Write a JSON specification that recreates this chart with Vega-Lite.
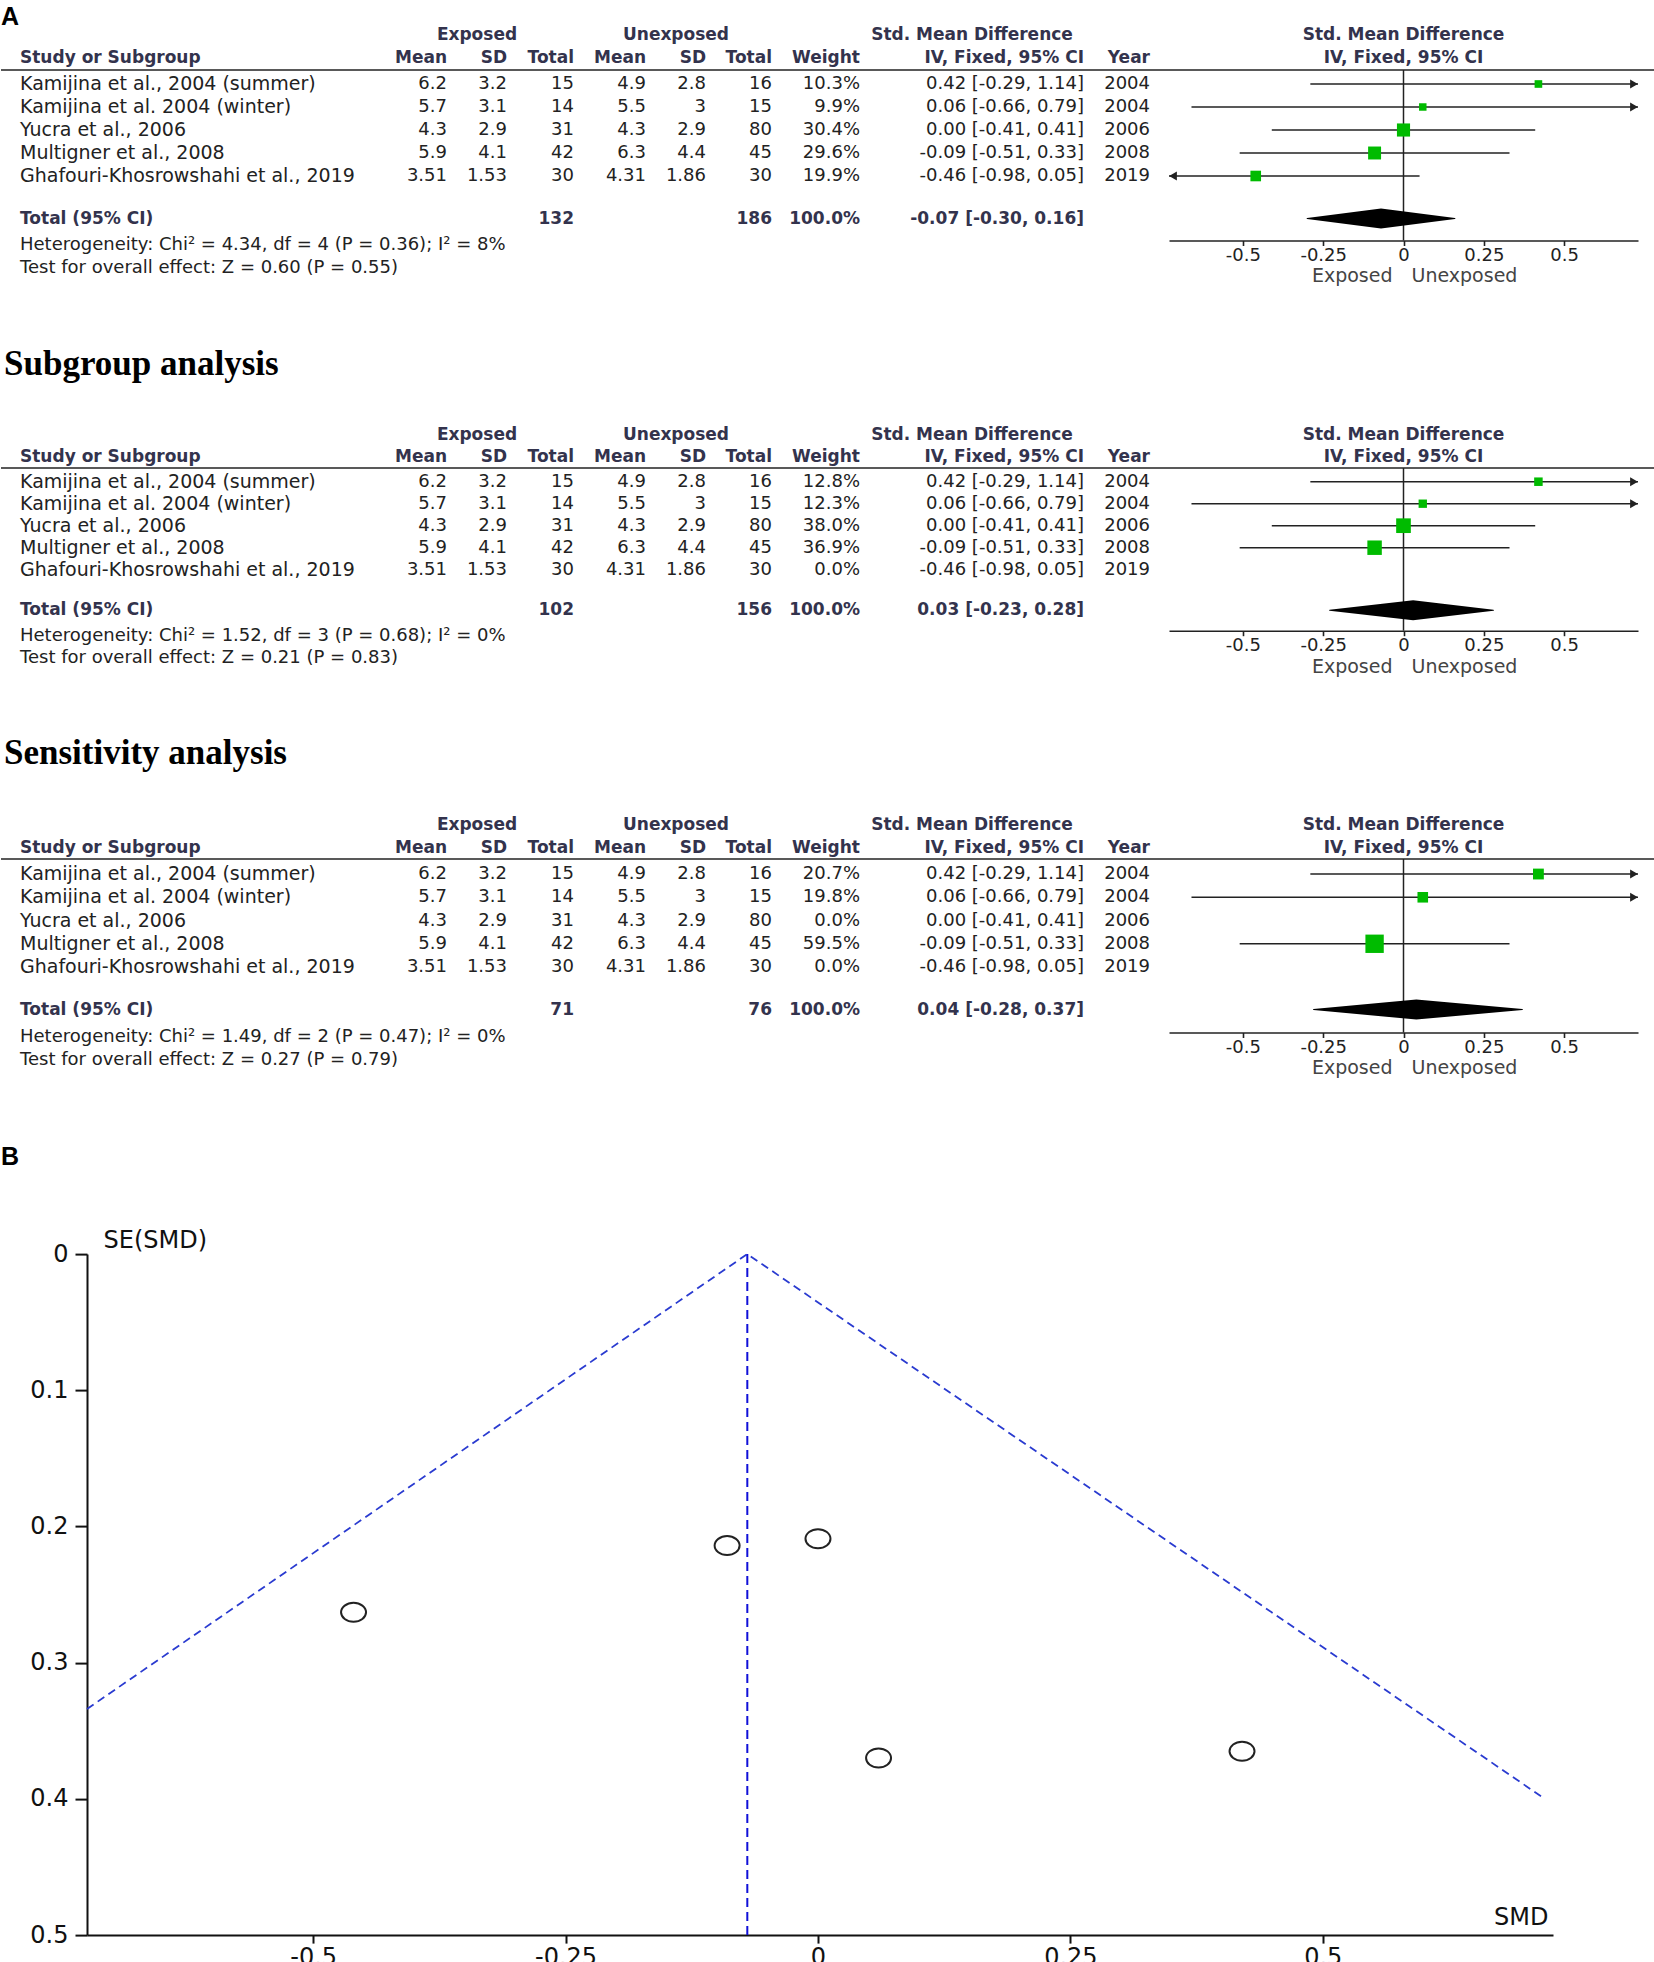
{
  "$schema": "https://vega.github.io/schema/vega-lite/v6.json",
  "background": "white",
  "padding": {"left": 0, "top": 4.5, "right": 0, "bottom": 0},
  "spacing": 147.2,
  "bounds": "flush",
  "config": {"view": {"stroke": null}},
  "datasets": {
    "forest": [
      {"panel": 1, "kind": "study", "row": "s1", "study": "Kamijina et al., 2004 (summer)", "mean_e": 6.2, "sd_e": 3.2, "n_e": 15, "mean_c": 4.9, "sd_c": 2.8, "n_c": 16, "w": 0.103, "ci": "0.42 [-0.29, 1.14]", "est": 0.42, "lo": -0.29, "hi": 1.14, "year": 2004},
      {"panel": 1, "kind": "study", "row": "s2", "study": "Kamijina et al. 2004 (winter)", "mean_e": 5.7, "sd_e": 3.1, "n_e": 14, "mean_c": 5.5, "sd_c": 3, "n_c": 15, "w": 0.099, "ci": "0.06 [-0.66, 0.79]", "est": 0.06, "lo": -0.66, "hi": 0.79, "year": 2004},
      {"panel": 1, "kind": "study", "row": "s3", "study": "Yucra et al., 2006", "mean_e": 4.3, "sd_e": 2.9, "n_e": 31, "mean_c": 4.3, "sd_c": 2.9, "n_c": 80, "w": 0.304, "ci": "0.00 [-0.41, 0.41]", "est": 0.0, "lo": -0.41, "hi": 0.41, "year": 2006},
      {"panel": 1, "kind": "study", "row": "s4", "study": "Multigner et al., 2008", "mean_e": 5.9, "sd_e": 4.1, "n_e": 42, "mean_c": 6.3, "sd_c": 4.4, "n_c": 45, "w": 0.296, "ci": "-0.09 [-0.51, 0.33]", "est": -0.09, "lo": -0.51, "hi": 0.33, "year": 2008},
      {"panel": 1, "kind": "study", "row": "s5", "study": "Ghafouri-Khosrowshahi et al., 2019", "mean_e": 3.51, "sd_e": 1.53, "n_e": 30, "mean_c": 4.31, "sd_c": 1.86, "n_c": 30, "w": 0.199, "ci": "-0.46 [-0.98, 0.05]", "est": -0.46, "lo": -0.98, "hi": 0.05, "year": 2019},
      {"panel": 1, "kind": "total", "row": "total", "n_e": 132, "n_c": 186, "w": 1.0, "ci": "-0.07 [-0.30, 0.16]", "est": -0.07, "lo": -0.30, "hi": 0.16, "het": "Heterogeneity: Chi² = 4.34, df = 4 (P = 0.36); I² = 8%", "test": "Test for overall effect: Z = 0.60 (P = 0.55)", "title": "A"},
      {"panel": 2, "kind": "study", "row": "s1", "study": "Kamijina et al., 2004 (summer)", "mean_e": 6.2, "sd_e": 3.2, "n_e": 15, "mean_c": 4.9, "sd_c": 2.8, "n_c": 16, "w": 0.128, "ci": "0.42 [-0.29, 1.14]", "est": 0.42, "lo": -0.29, "hi": 1.14, "year": 2004},
      {"panel": 2, "kind": "study", "row": "s2", "study": "Kamijina et al. 2004 (winter)", "mean_e": 5.7, "sd_e": 3.1, "n_e": 14, "mean_c": 5.5, "sd_c": 3, "n_c": 15, "w": 0.123, "ci": "0.06 [-0.66, 0.79]", "est": 0.06, "lo": -0.66, "hi": 0.79, "year": 2004},
      {"panel": 2, "kind": "study", "row": "s3", "study": "Yucra et al., 2006", "mean_e": 4.3, "sd_e": 2.9, "n_e": 31, "mean_c": 4.3, "sd_c": 2.9, "n_c": 80, "w": 0.380, "ci": "0.00 [-0.41, 0.41]", "est": 0.0, "lo": -0.41, "hi": 0.41, "year": 2006},
      {"panel": 2, "kind": "study", "row": "s4", "study": "Multigner et al., 2008", "mean_e": 5.9, "sd_e": 4.1, "n_e": 42, "mean_c": 6.3, "sd_c": 4.4, "n_c": 45, "w": 0.369, "ci": "-0.09 [-0.51, 0.33]", "est": -0.09, "lo": -0.51, "hi": 0.33, "year": 2008},
      {"panel": 2, "kind": "study", "row": "s5", "study": "Ghafouri-Khosrowshahi et al., 2019", "mean_e": 3.51, "sd_e": 1.53, "n_e": 30, "mean_c": 4.31, "sd_c": 1.86, "n_c": 30, "w": 0.0, "ci": "-0.46 [-0.98, 0.05]", "est": -0.46, "lo": -0.98, "hi": 0.05, "year": 2019},
      {"panel": 2, "kind": "total", "row": "total", "n_e": 102, "n_c": 156, "w": 1.0, "ci": "0.03 [-0.23, 0.28]", "est": 0.03, "lo": -0.23, "hi": 0.28, "het": "Heterogeneity: Chi² = 1.52, df = 3 (P = 0.68); I² = 0%", "test": "Test for overall effect: Z = 0.21 (P = 0.83)", "title": "Subgroup analysis"},
      {"panel": 3, "kind": "study", "row": "s1", "study": "Kamijina et al., 2004 (summer)", "mean_e": 6.2, "sd_e": 3.2, "n_e": 15, "mean_c": 4.9, "sd_c": 2.8, "n_c": 16, "w": 0.207, "ci": "0.42 [-0.29, 1.14]", "est": 0.42, "lo": -0.29, "hi": 1.14, "year": 2004},
      {"panel": 3, "kind": "study", "row": "s2", "study": "Kamijina et al. 2004 (winter)", "mean_e": 5.7, "sd_e": 3.1, "n_e": 14, "mean_c": 5.5, "sd_c": 3, "n_c": 15, "w": 0.198, "ci": "0.06 [-0.66, 0.79]", "est": 0.06, "lo": -0.66, "hi": 0.79, "year": 2004},
      {"panel": 3, "kind": "study", "row": "s3", "study": "Yucra et al., 2006", "mean_e": 4.3, "sd_e": 2.9, "n_e": 31, "mean_c": 4.3, "sd_c": 2.9, "n_c": 80, "w": 0.0, "ci": "0.00 [-0.41, 0.41]", "est": 0.0, "lo": -0.41, "hi": 0.41, "year": 2006},
      {"panel": 3, "kind": "study", "row": "s4", "study": "Multigner et al., 2008", "mean_e": 5.9, "sd_e": 4.1, "n_e": 42, "mean_c": 6.3, "sd_c": 4.4, "n_c": 45, "w": 0.595, "ci": "-0.09 [-0.51, 0.33]", "est": -0.09, "lo": -0.51, "hi": 0.33, "year": 2008},
      {"panel": 3, "kind": "study", "row": "s5", "study": "Ghafouri-Khosrowshahi et al., 2019", "mean_e": 3.51, "sd_e": 1.53, "n_e": 30, "mean_c": 4.31, "sd_c": 1.86, "n_c": 30, "w": 0.0, "ci": "-0.46 [-0.98, 0.05]", "est": -0.46, "lo": -0.98, "hi": 0.05, "year": 2019},
      {"panel": 3, "kind": "total", "row": "total", "n_e": 71, "n_c": 76, "w": 1.0, "ci": "0.04 [-0.28, 0.37]", "est": 0.04, "lo": -0.28, "hi": 0.37, "het": "Heterogeneity: Chi² = 1.49, df = 2 (P = 0.47); I² = 0%", "test": "Test for overall effect: Z = 0.27 (P = 0.79)", "title": "Sensitivity analysis"}
    ],
    "funnel_points": [
      {"study": "Kamijina et al., 2004 (summer)", "smd": 0.42, "se": 0.365},
      {"study": "Kamijina et al. 2004 (winter)", "smd": 0.06, "se": 0.370},
      {"study": "Yucra et al., 2006", "smd": 0.0, "se": 0.209},
      {"study": "Multigner et al., 2008", "smd": -0.09, "se": 0.214},
      {"study": "Ghafouri-Khosrowshahi et al., 2019", "smd": -0.46, "se": 0.263}
    ],
    "funnel_lines": [
      {"smd": -0.724, "se": 0.334},
      {"smd": -0.07, "se": 0.0},
      {"smd": 0.72, "se": 0.4}
    ],
    "pooled": [{"smd": -0.07}]
  },
  "vconcat": [
    {
      "data": {"name": "forest"},
      "transform": [{"filter": "datum.panel == 1"}],
      "width": 1654,
      "height": {"step": 23},
      "resolve": {"scale": {"x": "independent", "size": "independent"}, "axis": {"x": "independent"}},
      "layer": [
        {"layer": [
          {"transform": [{"filter": "datum.kind=='total'"}], "mark": {"type": "text", "font": "Liberation Sans", "fontSize": 25, "fontWeight": "bold", "color": "#000000", "align": "left", "baseline": "middle", "dx": -19, "dy": -21},
           "encoding": {"x": {"datum": 0, "type": "quantitative", "scale": {"domain": [0,1,2,3,4,5,6,7,8,9], "range": [19,446,506,573,645,705,771,859,1083,1149], "zero": false, "nice": false}, "axis": null},
                        "y": {"datum": "grp", "type": "nominal", "scale": {"type": "point", "domain": ["grp","hdr","s1","s2","s3","s4","s5","gap","total","het","test"]}, "axis": null}, "text": {"field": "title"}}},
          {"transform": [{"filter": "datum.kind=='total'"}], "mark": {"type": "text", "font": "DejaVu Sans", "fontSize": 17, "fontWeight": "bold", "color": "#33334d", "baseline": "middle", "align": "center", "dy": -3},
           "encoding": {"x": {"datum": 1.5, "type": "quantitative", "axis": null}, "y": {"datum": "grp", "type": "nominal", "axis": null}, "text": {"value": "Exposed"}}},
          {"transform": [{"filter": "datum.kind=='total'"}], "mark": {"type": "text", "font": "DejaVu Sans", "fontSize": 17, "fontWeight": "bold", "color": "#33334d", "baseline": "middle", "align": "center", "dy": -3},
           "encoding": {"x": {"datum": 4.5, "type": "quantitative", "axis": null}, "y": {"datum": "grp", "type": "nominal", "axis": null}, "text": {"value": "Unexposed"}}},
          {"transform": [{"filter": "datum.kind=='total'"}], "mark": {"type": "text", "font": "DejaVu Sans", "fontSize": 17, "fontWeight": "bold", "color": "#33334d", "baseline": "middle", "align": "center", "dy": -3},
           "encoding": {"x": {"datum": 7.5, "type": "quantitative", "axis": null}, "y": {"datum": "grp", "type": "nominal", "axis": null}, "text": {"value": "Std. Mean Difference"}}},
          {"transform": [{"filter": "datum.kind=='total'"}], "mark": {"type": "text", "font": "DejaVu Sans", "fontSize": 17, "fontWeight": "bold", "color": "#33334d", "baseline": "middle", "align": "left", "dy": -3},
           "encoding": {"x": {"datum": 0, "type": "quantitative", "axis": null}, "y": {"datum": "hdr", "type": "nominal", "axis": null}, "text": {"value": "Study or Subgroup"}}},
          {"transform": [{"filter": "datum.kind=='total'"}], "mark": {"type": "text", "font": "DejaVu Sans", "fontSize": 17, "fontWeight": "bold", "color": "#33334d", "baseline": "middle", "align": "right", "dy": -3},
           "encoding": {"x": {"datum": 1, "type": "quantitative", "axis": null}, "y": {"datum": "hdr", "type": "nominal", "axis": null}, "text": {"value": "Mean"}}},
          {"transform": [{"filter": "datum.kind=='total'"}], "mark": {"type": "text", "font": "DejaVu Sans", "fontSize": 17, "fontWeight": "bold", "color": "#33334d", "baseline": "middle", "align": "right", "dy": -3},
           "encoding": {"x": {"datum": 2, "type": "quantitative", "axis": null}, "y": {"datum": "hdr", "type": "nominal", "axis": null}, "text": {"value": "SD"}}},
          {"transform": [{"filter": "datum.kind=='total'"}], "mark": {"type": "text", "font": "DejaVu Sans", "fontSize": 17, "fontWeight": "bold", "color": "#33334d", "baseline": "middle", "align": "right", "dy": -3},
           "encoding": {"x": {"datum": 3, "type": "quantitative", "axis": null}, "y": {"datum": "hdr", "type": "nominal", "axis": null}, "text": {"value": "Total"}}},
          {"transform": [{"filter": "datum.kind=='total'"}], "mark": {"type": "text", "font": "DejaVu Sans", "fontSize": 17, "fontWeight": "bold", "color": "#33334d", "baseline": "middle", "align": "right", "dy": -3},
           "encoding": {"x": {"datum": 4, "type": "quantitative", "axis": null}, "y": {"datum": "hdr", "type": "nominal", "axis": null}, "text": {"value": "Mean"}}},
          {"transform": [{"filter": "datum.kind=='total'"}], "mark": {"type": "text", "font": "DejaVu Sans", "fontSize": 17, "fontWeight": "bold", "color": "#33334d", "baseline": "middle", "align": "right", "dy": -3},
           "encoding": {"x": {"datum": 5, "type": "quantitative", "axis": null}, "y": {"datum": "hdr", "type": "nominal", "axis": null}, "text": {"value": "SD"}}},
          {"transform": [{"filter": "datum.kind=='total'"}], "mark": {"type": "text", "font": "DejaVu Sans", "fontSize": 17, "fontWeight": "bold", "color": "#33334d", "baseline": "middle", "align": "right", "dy": -3},
           "encoding": {"x": {"datum": 6, "type": "quantitative", "axis": null}, "y": {"datum": "hdr", "type": "nominal", "axis": null}, "text": {"value": "Total"}}},
          {"transform": [{"filter": "datum.kind=='total'"}], "mark": {"type": "text", "font": "DejaVu Sans", "fontSize": 17, "fontWeight": "bold", "color": "#33334d", "baseline": "middle", "align": "right", "dy": -3},
           "encoding": {"x": {"datum": 7, "type": "quantitative", "axis": null}, "y": {"datum": "hdr", "type": "nominal", "axis": null}, "text": {"value": "Weight"}}},
          {"transform": [{"filter": "datum.kind=='total'"}], "mark": {"type": "text", "font": "DejaVu Sans", "fontSize": 17, "fontWeight": "bold", "color": "#33334d", "baseline": "middle", "align": "right", "dy": -3},
           "encoding": {"x": {"datum": 8, "type": "quantitative", "axis": null}, "y": {"datum": "hdr", "type": "nominal", "axis": null}, "text": {"value": "IV, Fixed, 95% CI"}}},
          {"transform": [{"filter": "datum.kind=='total'"}], "mark": {"type": "text", "font": "DejaVu Sans", "fontSize": 17, "fontWeight": "bold", "color": "#33334d", "baseline": "middle", "align": "right", "dy": -3},
           "encoding": {"x": {"datum": 9, "type": "quantitative", "axis": null}, "y": {"datum": "hdr", "type": "nominal", "axis": null}, "text": {"value": "Year"}}},
          {"transform": [{"filter": "datum.kind=='total'"}], "mark": {"type": "rule", "color": "#222222", "strokeWidth": 1.6, "yOffset": 9},
           "encoding": {"y": {"datum": "hdr", "type": "nominal", "axis": null}}},
          {"transform": [{"filter": "datum.kind=='study'"}], "mark": {"type": "text", "font": "DejaVu Sans", "fontSize": 19, "color": "#222222", "baseline": "middle", "align": "left"},
           "encoding": {"x": {"datum": 0, "type": "quantitative", "axis": null}, "y": {"field": "row", "type": "nominal", "axis": null}, "text": {"field": "study", "type": "nominal"}}},
          {"transform": [{"filter": "datum.kind=='study'"}], "mark": {"type": "text", "font": "DejaVu Sans", "fontSize": 18, "color": "#222222", "baseline": "middle", "align": "right"},
           "encoding": {"x": {"datum": 1, "type": "quantitative", "axis": null}, "y": {"field": "row", "type": "nominal", "axis": null}, "text": {"field": "mean_e", "type": "nominal"}}},
          {"transform": [{"filter": "datum.kind=='study'"}], "mark": {"type": "text", "font": "DejaVu Sans", "fontSize": 18, "color": "#222222", "baseline": "middle", "align": "right"},
           "encoding": {"x": {"datum": 2, "type": "quantitative", "axis": null}, "y": {"field": "row", "type": "nominal", "axis": null}, "text": {"field": "sd_e", "type": "nominal"}}},
          {"transform": [{"filter": "datum.kind=='study'"}], "mark": {"type": "text", "font": "DejaVu Sans", "fontSize": 18, "color": "#222222", "baseline": "middle", "align": "right"},
           "encoding": {"x": {"datum": 3, "type": "quantitative", "axis": null}, "y": {"field": "row", "type": "nominal", "axis": null}, "text": {"field": "n_e", "type": "nominal"}}},
          {"transform": [{"filter": "datum.kind=='study'"}], "mark": {"type": "text", "font": "DejaVu Sans", "fontSize": 18, "color": "#222222", "baseline": "middle", "align": "right"},
           "encoding": {"x": {"datum": 4, "type": "quantitative", "axis": null}, "y": {"field": "row", "type": "nominal", "axis": null}, "text": {"field": "mean_c", "type": "nominal"}}},
          {"transform": [{"filter": "datum.kind=='study'"}], "mark": {"type": "text", "font": "DejaVu Sans", "fontSize": 18, "color": "#222222", "baseline": "middle", "align": "right"},
           "encoding": {"x": {"datum": 5, "type": "quantitative", "axis": null}, "y": {"field": "row", "type": "nominal", "axis": null}, "text": {"field": "sd_c", "type": "nominal"}}},
          {"transform": [{"filter": "datum.kind=='study'"}], "mark": {"type": "text", "font": "DejaVu Sans", "fontSize": 18, "color": "#222222", "baseline": "middle", "align": "right"},
           "encoding": {"x": {"datum": 6, "type": "quantitative", "axis": null}, "y": {"field": "row", "type": "nominal", "axis": null}, "text": {"field": "n_c", "type": "nominal"}}},
          {"transform": [{"filter": "datum.kind=='study'"}], "mark": {"type": "text", "font": "DejaVu Sans", "fontSize": 18, "color": "#222222", "baseline": "middle", "align": "right"},
           "encoding": {"x": {"datum": 7, "type": "quantitative", "axis": null}, "y": {"field": "row", "type": "nominal", "axis": null}, "text": {"field": "w", "type": "quantitative", "format": ".1%"}}},
          {"transform": [{"filter": "datum.kind=='study'"}], "mark": {"type": "text", "font": "DejaVu Sans", "fontSize": 18, "color": "#222222", "baseline": "middle", "align": "right"},
           "encoding": {"x": {"datum": 8, "type": "quantitative", "axis": null}, "y": {"field": "row", "type": "nominal", "axis": null}, "text": {"field": "ci", "type": "nominal"}}},
          {"transform": [{"filter": "datum.kind=='study'"}], "mark": {"type": "text", "font": "DejaVu Sans", "fontSize": 18, "color": "#222222", "baseline": "middle", "align": "right"},
           "encoding": {"x": {"datum": 9, "type": "quantitative", "axis": null}, "y": {"field": "row", "type": "nominal", "axis": null}, "text": {"field": "year", "type": "nominal"}}},
          {"transform": [{"filter": "datum.kind=='total'"}], "mark": {"type": "text", "font": "DejaVu Sans", "fontSize": 17, "fontWeight": "bold", "color": "#33334d", "baseline": "middle", "align": "left", "dy": -3.5},
           "encoding": {"x": {"datum": 0, "type": "quantitative", "axis": null}, "y": {"datum": "total", "type": "nominal", "axis": null}, "text": {"value": "Total (95% CI)"}}},
          {"transform": [{"filter": "datum.kind=='total'"}], "mark": {"type": "text", "font": "DejaVu Sans", "fontSize": 17, "fontWeight": "bold", "color": "#33334d", "baseline": "middle", "align": "right", "dy": -3.5},
           "encoding": {"x": {"datum": 3, "type": "quantitative", "axis": null}, "y": {"datum": "total", "type": "nominal", "axis": null}, "text": {"field": "n_e", "type": "nominal"}}},
          {"transform": [{"filter": "datum.kind=='total'"}], "mark": {"type": "text", "font": "DejaVu Sans", "fontSize": 17, "fontWeight": "bold", "color": "#33334d", "baseline": "middle", "align": "right", "dy": -3.5},
           "encoding": {"x": {"datum": 6, "type": "quantitative", "axis": null}, "y": {"datum": "total", "type": "nominal", "axis": null}, "text": {"field": "n_c", "type": "nominal"}}},
          {"transform": [{"filter": "datum.kind=='total'"}], "mark": {"type": "text", "font": "DejaVu Sans", "fontSize": 17, "fontWeight": "bold", "color": "#33334d", "baseline": "middle", "align": "right", "dy": -3.5},
           "encoding": {"x": {"datum": 7, "type": "quantitative", "axis": null}, "y": {"datum": "total", "type": "nominal", "axis": null}, "text": {"field": "w", "type": "quantitative", "format": ".1%"}}},
          {"transform": [{"filter": "datum.kind=='total'"}], "mark": {"type": "text", "font": "DejaVu Sans", "fontSize": 17, "fontWeight": "bold", "color": "#33334d", "baseline": "middle", "align": "right", "dy": -3.5},
           "encoding": {"x": {"datum": 8, "type": "quantitative", "axis": null}, "y": {"datum": "total", "type": "nominal", "axis": null}, "text": {"field": "ci", "type": "nominal"}}},
          {"transform": [{"filter": "datum.kind=='total'"}], "mark": {"type": "text", "font": "DejaVu Sans", "fontSize": 18, "color": "#222222", "baseline": "middle", "align": "left"},
           "encoding": {"x": {"datum": 0, "type": "quantitative", "axis": null}, "y": {"datum": "het", "type": "nominal", "axis": null}, "text": {"field": "het", "type": "nominal"}}},
          {"transform": [{"filter": "datum.kind=='total'"}], "mark": {"type": "text", "font": "DejaVu Sans", "fontSize": 18, "color": "#222222", "baseline": "middle", "align": "left"},
           "encoding": {"x": {"datum": 0, "type": "quantitative", "axis": null}, "y": {"datum": "test", "type": "nominal", "axis": null}, "text": {"field": "test", "type": "nominal"}}}
        ]},
        {"resolve": {"scale": {"size": "independent"}},
         "layer": [
          {"transform": [{"filter": "datum.kind=='total'"}], "mark": {"type": "rule", "color": "#222222", "strokeWidth": 1.5, "yOffset": 9, "y2Offset": 18.5},
           "encoding": {"x": {"datum": 0, "type": "quantitative", "scale": {"domain": [-0.73, 0.73], "range": [1168, 1637], "clamp": true, "zero": false, "nice": false},
                              "axis": {"orient": "bottom", "offset": -39, "values": [-0.5, -0.25, 0, 0.25, 0.5], "format": "~g", "labelExpr": "replace(datum.label, '−', '-')", "labelFont": "DejaVu Sans", "labelFontSize": 18, "labelColor": "#222222", "domainColor": "#222222", "domainWidth": 1.6, "tickColor": "#222222", "tickWidth": 1.6, "tickSize": 5, "labelPadding": 1, "title": null, "grid": false, "labelFlush": false, "labelOverlap": false}},
                        "y": {"datum": "hdr", "type": "nominal", "axis": null}, "y2": {"datum": "total"}}},
          {"transform": [{"filter": "datum.kind=='total'"}], "mark": {"type": "text", "font": "DejaVu Sans", "fontSize": 17, "fontWeight": "bold", "color": "#33334d", "baseline": "middle", "align": "center", "dy": -3},
           "encoding": {"x": {"datum": 0, "type": "quantitative"}, "y": {"datum": "grp", "type": "nominal", "axis": null}, "text": {"value": "Std. Mean Difference"}}},
          {"transform": [{"filter": "datum.kind=='total'"}], "mark": {"type": "text", "font": "DejaVu Sans", "fontSize": 17, "fontWeight": "bold", "color": "#33334d", "baseline": "middle", "align": "center", "dy": -3},
           "encoding": {"x": {"datum": 0, "type": "quantitative"}, "y": {"datum": "hdr", "type": "nominal", "axis": null}, "text": {"value": "IV, Fixed, 95% CI"}}},
          {"transform": [{"filter": "datum.kind=='study' && datum.w > 0"}], "mark": {"type": "rule", "color": "#222222", "strokeWidth": 1.5},
           "encoding": {"x": {"field": "lo", "type": "quantitative"}, "x2": {"field": "hi"}, "y": {"field": "row", "type": "nominal", "axis": null}}},
          {"transform": [{"filter": "datum.kind=='study' && datum.w > 0"}], "mark": {"type": "point", "shape": "square", "filled": true, "color": "#00bb00", "opacity": 1},
           "encoding": {"x": {"field": "est", "type": "quantitative"}, "y": {"field": "row", "type": "nominal", "axis": null},
                        "size": {"field": "w", "type": "quantitative", "scale": {"domain": [0, 0.6], "range": [0, 340], "zero": true}, "legend": null}}},
          {"transform": [{"filter": "datum.kind=='study' && datum.w > 0 && datum.hi > 0.73"}], "mark": {"type": "point", "shape": "triangle-right", "filled": true, "color": "#222222", "opacity": 1, "size": 80, "xOffset": -4},
           "encoding": {"x": {"field": "hi", "type": "quantitative"}, "y": {"field": "row", "type": "nominal", "axis": null}}},
          {"transform": [{"filter": "datum.kind=='study' && datum.w > 0 && datum.lo < -0.73"}], "mark": {"type": "point", "shape": "triangle-left", "filled": true, "color": "#222222", "opacity": 1, "size": 80, "xOffset": 4},
           "encoding": {"x": {"field": "lo", "type": "quantitative"}, "y": {"field": "row", "type": "nominal", "axis": null}}},
          {"transform": [{"filter": "datum.kind=='total'"}, {"fold": ["lo", "est", "hi"], "as": ["k", "v"]}], "mark": {"type": "trail", "color": "#000000", "opacity": 1, "yOffset": -3.5},
           "encoding": {"x": {"field": "v", "type": "quantitative"}, "y": {"datum": "total", "type": "nominal", "axis": null},
                        "size": {"field": "k", "type": "ordinal", "scale": {"type": "ordinal", "domain": ["lo", "est", "hi"], "range": [0, 20, 0]}, "legend": null}}},
          {"transform": [{"filter": "datum.kind=='total'"}], "mark": {"type": "text", "font": "DejaVu Sans", "fontSize": 19, "color": "#444444", "baseline": "middle", "align": "right", "dx": -11, "dy": 31},
           "encoding": {"x": {"datum": 0, "type": "quantitative"}, "y": {"datum": "het", "type": "nominal", "axis": null}, "text": {"value": "Exposed"}}},
          {"transform": [{"filter": "datum.kind=='total'"}], "mark": {"type": "text", "font": "DejaVu Sans", "fontSize": 19, "color": "#444444", "baseline": "middle", "align": "left", "dx": 8, "dy": 31},
           "encoding": {"x": {"datum": 0, "type": "quantitative"}, "y": {"datum": "het", "type": "nominal", "axis": null}, "text": {"value": "Unexposed"}}}
        ]}
      ]
    },
    {
      "data": {"name": "forest"},
      "transform": [{"filter": "datum.panel == 2"}],
      "width": 1654,
      "height": {"step": 22},
      "resolve": {"scale": {"x": "independent", "size": "independent"}, "axis": {"x": "independent"}},
      "layer": [
        {"layer": [
          {"transform": [{"filter": "datum.kind=='total'"}], "mark": {"type": "text", "font": "Liberation Serif", "fontSize": 35, "fontWeight": "bold", "color": "#000000", "align": "left", "baseline": "alphabetic", "dx": -16, "dy": -62.7},
           "encoding": {"x": {"datum": 0, "type": "quantitative", "scale": {"domain": [0,1,2,3,4,5,6,7,8,9], "range": [19,446,506,573,645,705,771,859,1083,1149], "zero": false, "nice": false}, "axis": null},
                        "y": {"datum": "grp", "type": "nominal", "scale": {"type": "point", "domain": ["grp","hdr","s1","s2","s3","s4","s5","gap","total","het","test"]}, "axis": null}, "text": {"field": "title"}}},
          {"transform": [{"filter": "datum.kind=='total'"}], "mark": {"type": "text", "font": "DejaVu Sans", "fontSize": 17, "fontWeight": "bold", "color": "#33334d", "baseline": "middle", "align": "center", "dy": -3},
           "encoding": {"x": {"datum": 1.5, "type": "quantitative", "axis": null}, "y": {"datum": "grp", "type": "nominal", "axis": null}, "text": {"value": "Exposed"}}},
          {"transform": [{"filter": "datum.kind=='total'"}], "mark": {"type": "text", "font": "DejaVu Sans", "fontSize": 17, "fontWeight": "bold", "color": "#33334d", "baseline": "middle", "align": "center", "dy": -3},
           "encoding": {"x": {"datum": 4.5, "type": "quantitative", "axis": null}, "y": {"datum": "grp", "type": "nominal", "axis": null}, "text": {"value": "Unexposed"}}},
          {"transform": [{"filter": "datum.kind=='total'"}], "mark": {"type": "text", "font": "DejaVu Sans", "fontSize": 17, "fontWeight": "bold", "color": "#33334d", "baseline": "middle", "align": "center", "dy": -3},
           "encoding": {"x": {"datum": 7.5, "type": "quantitative", "axis": null}, "y": {"datum": "grp", "type": "nominal", "axis": null}, "text": {"value": "Std. Mean Difference"}}},
          {"transform": [{"filter": "datum.kind=='total'"}], "mark": {"type": "text", "font": "DejaVu Sans", "fontSize": 17, "fontWeight": "bold", "color": "#33334d", "baseline": "middle", "align": "left", "dy": -3},
           "encoding": {"x": {"datum": 0, "type": "quantitative", "axis": null}, "y": {"datum": "hdr", "type": "nominal", "axis": null}, "text": {"value": "Study or Subgroup"}}},
          {"transform": [{"filter": "datum.kind=='total'"}], "mark": {"type": "text", "font": "DejaVu Sans", "fontSize": 17, "fontWeight": "bold", "color": "#33334d", "baseline": "middle", "align": "right", "dy": -3},
           "encoding": {"x": {"datum": 1, "type": "quantitative", "axis": null}, "y": {"datum": "hdr", "type": "nominal", "axis": null}, "text": {"value": "Mean"}}},
          {"transform": [{"filter": "datum.kind=='total'"}], "mark": {"type": "text", "font": "DejaVu Sans", "fontSize": 17, "fontWeight": "bold", "color": "#33334d", "baseline": "middle", "align": "right", "dy": -3},
           "encoding": {"x": {"datum": 2, "type": "quantitative", "axis": null}, "y": {"datum": "hdr", "type": "nominal", "axis": null}, "text": {"value": "SD"}}},
          {"transform": [{"filter": "datum.kind=='total'"}], "mark": {"type": "text", "font": "DejaVu Sans", "fontSize": 17, "fontWeight": "bold", "color": "#33334d", "baseline": "middle", "align": "right", "dy": -3},
           "encoding": {"x": {"datum": 3, "type": "quantitative", "axis": null}, "y": {"datum": "hdr", "type": "nominal", "axis": null}, "text": {"value": "Total"}}},
          {"transform": [{"filter": "datum.kind=='total'"}], "mark": {"type": "text", "font": "DejaVu Sans", "fontSize": 17, "fontWeight": "bold", "color": "#33334d", "baseline": "middle", "align": "right", "dy": -3},
           "encoding": {"x": {"datum": 4, "type": "quantitative", "axis": null}, "y": {"datum": "hdr", "type": "nominal", "axis": null}, "text": {"value": "Mean"}}},
          {"transform": [{"filter": "datum.kind=='total'"}], "mark": {"type": "text", "font": "DejaVu Sans", "fontSize": 17, "fontWeight": "bold", "color": "#33334d", "baseline": "middle", "align": "right", "dy": -3},
           "encoding": {"x": {"datum": 5, "type": "quantitative", "axis": null}, "y": {"datum": "hdr", "type": "nominal", "axis": null}, "text": {"value": "SD"}}},
          {"transform": [{"filter": "datum.kind=='total'"}], "mark": {"type": "text", "font": "DejaVu Sans", "fontSize": 17, "fontWeight": "bold", "color": "#33334d", "baseline": "middle", "align": "right", "dy": -3},
           "encoding": {"x": {"datum": 6, "type": "quantitative", "axis": null}, "y": {"datum": "hdr", "type": "nominal", "axis": null}, "text": {"value": "Total"}}},
          {"transform": [{"filter": "datum.kind=='total'"}], "mark": {"type": "text", "font": "DejaVu Sans", "fontSize": 17, "fontWeight": "bold", "color": "#33334d", "baseline": "middle", "align": "right", "dy": -3},
           "encoding": {"x": {"datum": 7, "type": "quantitative", "axis": null}, "y": {"datum": "hdr", "type": "nominal", "axis": null}, "text": {"value": "Weight"}}},
          {"transform": [{"filter": "datum.kind=='total'"}], "mark": {"type": "text", "font": "DejaVu Sans", "fontSize": 17, "fontWeight": "bold", "color": "#33334d", "baseline": "middle", "align": "right", "dy": -3},
           "encoding": {"x": {"datum": 8, "type": "quantitative", "axis": null}, "y": {"datum": "hdr", "type": "nominal", "axis": null}, "text": {"value": "IV, Fixed, 95% CI"}}},
          {"transform": [{"filter": "datum.kind=='total'"}], "mark": {"type": "text", "font": "DejaVu Sans", "fontSize": 17, "fontWeight": "bold", "color": "#33334d", "baseline": "middle", "align": "right", "dy": -3},
           "encoding": {"x": {"datum": 9, "type": "quantitative", "axis": null}, "y": {"datum": "hdr", "type": "nominal", "axis": null}, "text": {"value": "Year"}}},
          {"transform": [{"filter": "datum.kind=='total'"}], "mark": {"type": "rule", "color": "#222222", "strokeWidth": 1.6, "yOffset": 8.3},
           "encoding": {"y": {"datum": "hdr", "type": "nominal", "axis": null}}},
          {"transform": [{"filter": "datum.kind=='study'"}], "mark": {"type": "text", "font": "DejaVu Sans", "fontSize": 19, "color": "#222222", "baseline": "middle", "align": "left"},
           "encoding": {"x": {"datum": 0, "type": "quantitative", "axis": null}, "y": {"field": "row", "type": "nominal", "axis": null}, "text": {"field": "study", "type": "nominal"}}},
          {"transform": [{"filter": "datum.kind=='study'"}], "mark": {"type": "text", "font": "DejaVu Sans", "fontSize": 18, "color": "#222222", "baseline": "middle", "align": "right"},
           "encoding": {"x": {"datum": 1, "type": "quantitative", "axis": null}, "y": {"field": "row", "type": "nominal", "axis": null}, "text": {"field": "mean_e", "type": "nominal"}}},
          {"transform": [{"filter": "datum.kind=='study'"}], "mark": {"type": "text", "font": "DejaVu Sans", "fontSize": 18, "color": "#222222", "baseline": "middle", "align": "right"},
           "encoding": {"x": {"datum": 2, "type": "quantitative", "axis": null}, "y": {"field": "row", "type": "nominal", "axis": null}, "text": {"field": "sd_e", "type": "nominal"}}},
          {"transform": [{"filter": "datum.kind=='study'"}], "mark": {"type": "text", "font": "DejaVu Sans", "fontSize": 18, "color": "#222222", "baseline": "middle", "align": "right"},
           "encoding": {"x": {"datum": 3, "type": "quantitative", "axis": null}, "y": {"field": "row", "type": "nominal", "axis": null}, "text": {"field": "n_e", "type": "nominal"}}},
          {"transform": [{"filter": "datum.kind=='study'"}], "mark": {"type": "text", "font": "DejaVu Sans", "fontSize": 18, "color": "#222222", "baseline": "middle", "align": "right"},
           "encoding": {"x": {"datum": 4, "type": "quantitative", "axis": null}, "y": {"field": "row", "type": "nominal", "axis": null}, "text": {"field": "mean_c", "type": "nominal"}}},
          {"transform": [{"filter": "datum.kind=='study'"}], "mark": {"type": "text", "font": "DejaVu Sans", "fontSize": 18, "color": "#222222", "baseline": "middle", "align": "right"},
           "encoding": {"x": {"datum": 5, "type": "quantitative", "axis": null}, "y": {"field": "row", "type": "nominal", "axis": null}, "text": {"field": "sd_c", "type": "nominal"}}},
          {"transform": [{"filter": "datum.kind=='study'"}], "mark": {"type": "text", "font": "DejaVu Sans", "fontSize": 18, "color": "#222222", "baseline": "middle", "align": "right"},
           "encoding": {"x": {"datum": 6, "type": "quantitative", "axis": null}, "y": {"field": "row", "type": "nominal", "axis": null}, "text": {"field": "n_c", "type": "nominal"}}},
          {"transform": [{"filter": "datum.kind=='study'"}], "mark": {"type": "text", "font": "DejaVu Sans", "fontSize": 18, "color": "#222222", "baseline": "middle", "align": "right"},
           "encoding": {"x": {"datum": 7, "type": "quantitative", "axis": null}, "y": {"field": "row", "type": "nominal", "axis": null}, "text": {"field": "w", "type": "quantitative", "format": ".1%"}}},
          {"transform": [{"filter": "datum.kind=='study'"}], "mark": {"type": "text", "font": "DejaVu Sans", "fontSize": 18, "color": "#222222", "baseline": "middle", "align": "right"},
           "encoding": {"x": {"datum": 8, "type": "quantitative", "axis": null}, "y": {"field": "row", "type": "nominal", "axis": null}, "text": {"field": "ci", "type": "nominal"}}},
          {"transform": [{"filter": "datum.kind=='study'"}], "mark": {"type": "text", "font": "DejaVu Sans", "fontSize": 18, "color": "#222222", "baseline": "middle", "align": "right"},
           "encoding": {"x": {"datum": 9, "type": "quantitative", "axis": null}, "y": {"field": "row", "type": "nominal", "axis": null}, "text": {"field": "year", "type": "nominal"}}},
          {"transform": [{"filter": "datum.kind=='total'"}], "mark": {"type": "text", "font": "DejaVu Sans", "fontSize": 17, "fontWeight": "bold", "color": "#33334d", "baseline": "middle", "align": "left", "dy": -3.5},
           "encoding": {"x": {"datum": 0, "type": "quantitative", "axis": null}, "y": {"datum": "total", "type": "nominal", "axis": null}, "text": {"value": "Total (95% CI)"}}},
          {"transform": [{"filter": "datum.kind=='total'"}], "mark": {"type": "text", "font": "DejaVu Sans", "fontSize": 17, "fontWeight": "bold", "color": "#33334d", "baseline": "middle", "align": "right", "dy": -3.5},
           "encoding": {"x": {"datum": 3, "type": "quantitative", "axis": null}, "y": {"datum": "total", "type": "nominal", "axis": null}, "text": {"field": "n_e", "type": "nominal"}}},
          {"transform": [{"filter": "datum.kind=='total'"}], "mark": {"type": "text", "font": "DejaVu Sans", "fontSize": 17, "fontWeight": "bold", "color": "#33334d", "baseline": "middle", "align": "right", "dy": -3.5},
           "encoding": {"x": {"datum": 6, "type": "quantitative", "axis": null}, "y": {"datum": "total", "type": "nominal", "axis": null}, "text": {"field": "n_c", "type": "nominal"}}},
          {"transform": [{"filter": "datum.kind=='total'"}], "mark": {"type": "text", "font": "DejaVu Sans", "fontSize": 17, "fontWeight": "bold", "color": "#33334d", "baseline": "middle", "align": "right", "dy": -3.5},
           "encoding": {"x": {"datum": 7, "type": "quantitative", "axis": null}, "y": {"datum": "total", "type": "nominal", "axis": null}, "text": {"field": "w", "type": "quantitative", "format": ".1%"}}},
          {"transform": [{"filter": "datum.kind=='total'"}], "mark": {"type": "text", "font": "DejaVu Sans", "fontSize": 17, "fontWeight": "bold", "color": "#33334d", "baseline": "middle", "align": "right", "dy": -3.5},
           "encoding": {"x": {"datum": 8, "type": "quantitative", "axis": null}, "y": {"datum": "total", "type": "nominal", "axis": null}, "text": {"field": "ci", "type": "nominal"}}},
          {"transform": [{"filter": "datum.kind=='total'"}], "mark": {"type": "text", "font": "DejaVu Sans", "fontSize": 18, "color": "#222222", "baseline": "middle", "align": "left"},
           "encoding": {"x": {"datum": 0, "type": "quantitative", "axis": null}, "y": {"datum": "het", "type": "nominal", "axis": null}, "text": {"field": "het", "type": "nominal"}}},
          {"transform": [{"filter": "datum.kind=='total'"}], "mark": {"type": "text", "font": "DejaVu Sans", "fontSize": 18, "color": "#222222", "baseline": "middle", "align": "left"},
           "encoding": {"x": {"datum": 0, "type": "quantitative", "axis": null}, "y": {"datum": "test", "type": "nominal", "axis": null}, "text": {"field": "test", "type": "nominal"}}}
        ]},
        {"resolve": {"scale": {"size": "independent"}},
         "layer": [
          {"transform": [{"filter": "datum.kind=='total'"}], "mark": {"type": "rule", "color": "#222222", "strokeWidth": 1.5, "yOffset": 8.3, "y2Offset": 17},
           "encoding": {"x": {"datum": 0, "type": "quantitative", "scale": {"domain": [-0.73, 0.73], "range": [1168, 1637], "clamp": true, "zero": false, "nice": false},
                              "axis": {"orient": "bottom", "offset": -38, "values": [-0.5, -0.25, 0, 0.25, 0.5], "format": "~g", "labelExpr": "replace(datum.label, '−', '-')", "labelFont": "DejaVu Sans", "labelFontSize": 18, "labelColor": "#222222", "domainColor": "#222222", "domainWidth": 1.6, "tickColor": "#222222", "tickWidth": 1.6, "tickSize": 5, "labelPadding": 1, "title": null, "grid": false, "labelFlush": false, "labelOverlap": false}},
                        "y": {"datum": "hdr", "type": "nominal", "axis": null}, "y2": {"datum": "total"}}},
          {"transform": [{"filter": "datum.kind=='total'"}], "mark": {"type": "text", "font": "DejaVu Sans", "fontSize": 17, "fontWeight": "bold", "color": "#33334d", "baseline": "middle", "align": "center", "dy": -3},
           "encoding": {"x": {"datum": 0, "type": "quantitative"}, "y": {"datum": "grp", "type": "nominal", "axis": null}, "text": {"value": "Std. Mean Difference"}}},
          {"transform": [{"filter": "datum.kind=='total'"}], "mark": {"type": "text", "font": "DejaVu Sans", "fontSize": 17, "fontWeight": "bold", "color": "#33334d", "baseline": "middle", "align": "center", "dy": -3},
           "encoding": {"x": {"datum": 0, "type": "quantitative"}, "y": {"datum": "hdr", "type": "nominal", "axis": null}, "text": {"value": "IV, Fixed, 95% CI"}}},
          {"transform": [{"filter": "datum.kind=='study' && datum.w > 0"}], "mark": {"type": "rule", "color": "#222222", "strokeWidth": 1.5},
           "encoding": {"x": {"field": "lo", "type": "quantitative"}, "x2": {"field": "hi"}, "y": {"field": "row", "type": "nominal", "axis": null}}},
          {"transform": [{"filter": "datum.kind=='study' && datum.w > 0"}], "mark": {"type": "point", "shape": "square", "filled": true, "color": "#00bb00", "opacity": 1},
           "encoding": {"x": {"field": "est", "type": "quantitative"}, "y": {"field": "row", "type": "nominal", "axis": null},
                        "size": {"field": "w", "type": "quantitative", "scale": {"domain": [0, 0.6], "range": [0, 340], "zero": true}, "legend": null}}},
          {"transform": [{"filter": "datum.kind=='study' && datum.w > 0 && datum.hi > 0.73"}], "mark": {"type": "point", "shape": "triangle-right", "filled": true, "color": "#222222", "opacity": 1, "size": 80, "xOffset": -4},
           "encoding": {"x": {"field": "hi", "type": "quantitative"}, "y": {"field": "row", "type": "nominal", "axis": null}}},
          {"transform": [{"filter": "datum.kind=='study' && datum.w > 0 && datum.lo < -0.73"}], "mark": {"type": "point", "shape": "triangle-left", "filled": true, "color": "#222222", "opacity": 1, "size": 80, "xOffset": 4},
           "encoding": {"x": {"field": "lo", "type": "quantitative"}, "y": {"field": "row", "type": "nominal", "axis": null}}},
          {"transform": [{"filter": "datum.kind=='total'"}, {"fold": ["lo", "est", "hi"], "as": ["k", "v"]}], "mark": {"type": "trail", "color": "#000000", "opacity": 1, "yOffset": -3.5},
           "encoding": {"x": {"field": "v", "type": "quantitative"}, "y": {"datum": "total", "type": "nominal", "axis": null},
                        "size": {"field": "k", "type": "ordinal", "scale": {"type": "ordinal", "domain": ["lo", "est", "hi"], "range": [0, 20, 0]}, "legend": null}}},
          {"transform": [{"filter": "datum.kind=='total'"}], "mark": {"type": "text", "font": "DejaVu Sans", "fontSize": 19, "color": "#444444", "baseline": "middle", "align": "right", "dx": -11, "dy": 31.3},
           "encoding": {"x": {"datum": 0, "type": "quantitative"}, "y": {"datum": "het", "type": "nominal", "axis": null}, "text": {"value": "Exposed"}}},
          {"transform": [{"filter": "datum.kind=='total'"}], "mark": {"type": "text", "font": "DejaVu Sans", "fontSize": 19, "color": "#444444", "baseline": "middle", "align": "left", "dx": 8, "dy": 31.3},
           "encoding": {"x": {"datum": 0, "type": "quantitative"}, "y": {"datum": "het", "type": "nominal", "axis": null}, "text": {"value": "Unexposed"}}}
        ]}
      ]
    },
    {
      "data": {"name": "forest"},
      "transform": [{"filter": "datum.panel == 3"}],
      "width": 1654,
      "height": {"step": 23.25},
      "resolve": {"scale": {"x": "independent", "size": "independent"}, "axis": {"x": "independent"}},
      "layer": [
        {"layer": [
          {"transform": [{"filter": "datum.kind=='total'"}], "mark": {"type": "text", "font": "Liberation Serif", "fontSize": 35, "fontWeight": "bold", "color": "#000000", "align": "left", "baseline": "alphabetic", "dx": -16, "dy": -63.5},
           "encoding": {"x": {"datum": 0, "type": "quantitative", "scale": {"domain": [0,1,2,3,4,5,6,7,8,9], "range": [19,446,506,573,645,705,771,859,1083,1149], "zero": false, "nice": false}, "axis": null},
                        "y": {"datum": "grp", "type": "nominal", "scale": {"type": "point", "domain": ["grp","hdr","s1","s2","s3","s4","s5","gap","total","het","test"]}, "axis": null}, "text": {"field": "title"}}},
          {"transform": [{"filter": "datum.kind=='total'"}], "mark": {"type": "text", "font": "DejaVu Sans", "fontSize": 17, "fontWeight": "bold", "color": "#33334d", "baseline": "middle", "align": "center", "dy": -3},
           "encoding": {"x": {"datum": 1.5, "type": "quantitative", "axis": null}, "y": {"datum": "grp", "type": "nominal", "axis": null}, "text": {"value": "Exposed"}}},
          {"transform": [{"filter": "datum.kind=='total'"}], "mark": {"type": "text", "font": "DejaVu Sans", "fontSize": 17, "fontWeight": "bold", "color": "#33334d", "baseline": "middle", "align": "center", "dy": -3},
           "encoding": {"x": {"datum": 4.5, "type": "quantitative", "axis": null}, "y": {"datum": "grp", "type": "nominal", "axis": null}, "text": {"value": "Unexposed"}}},
          {"transform": [{"filter": "datum.kind=='total'"}], "mark": {"type": "text", "font": "DejaVu Sans", "fontSize": 17, "fontWeight": "bold", "color": "#33334d", "baseline": "middle", "align": "center", "dy": -3},
           "encoding": {"x": {"datum": 7.5, "type": "quantitative", "axis": null}, "y": {"datum": "grp", "type": "nominal", "axis": null}, "text": {"value": "Std. Mean Difference"}}},
          {"transform": [{"filter": "datum.kind=='total'"}], "mark": {"type": "text", "font": "DejaVu Sans", "fontSize": 17, "fontWeight": "bold", "color": "#33334d", "baseline": "middle", "align": "left", "dy": -3},
           "encoding": {"x": {"datum": 0, "type": "quantitative", "axis": null}, "y": {"datum": "hdr", "type": "nominal", "axis": null}, "text": {"value": "Study or Subgroup"}}},
          {"transform": [{"filter": "datum.kind=='total'"}], "mark": {"type": "text", "font": "DejaVu Sans", "fontSize": 17, "fontWeight": "bold", "color": "#33334d", "baseline": "middle", "align": "right", "dy": -3},
           "encoding": {"x": {"datum": 1, "type": "quantitative", "axis": null}, "y": {"datum": "hdr", "type": "nominal", "axis": null}, "text": {"value": "Mean"}}},
          {"transform": [{"filter": "datum.kind=='total'"}], "mark": {"type": "text", "font": "DejaVu Sans", "fontSize": 17, "fontWeight": "bold", "color": "#33334d", "baseline": "middle", "align": "right", "dy": -3},
           "encoding": {"x": {"datum": 2, "type": "quantitative", "axis": null}, "y": {"datum": "hdr", "type": "nominal", "axis": null}, "text": {"value": "SD"}}},
          {"transform": [{"filter": "datum.kind=='total'"}], "mark": {"type": "text", "font": "DejaVu Sans", "fontSize": 17, "fontWeight": "bold", "color": "#33334d", "baseline": "middle", "align": "right", "dy": -3},
           "encoding": {"x": {"datum": 3, "type": "quantitative", "axis": null}, "y": {"datum": "hdr", "type": "nominal", "axis": null}, "text": {"value": "Total"}}},
          {"transform": [{"filter": "datum.kind=='total'"}], "mark": {"type": "text", "font": "DejaVu Sans", "fontSize": 17, "fontWeight": "bold", "color": "#33334d", "baseline": "middle", "align": "right", "dy": -3},
           "encoding": {"x": {"datum": 4, "type": "quantitative", "axis": null}, "y": {"datum": "hdr", "type": "nominal", "axis": null}, "text": {"value": "Mean"}}},
          {"transform": [{"filter": "datum.kind=='total'"}], "mark": {"type": "text", "font": "DejaVu Sans", "fontSize": 17, "fontWeight": "bold", "color": "#33334d", "baseline": "middle", "align": "right", "dy": -3},
           "encoding": {"x": {"datum": 5, "type": "quantitative", "axis": null}, "y": {"datum": "hdr", "type": "nominal", "axis": null}, "text": {"value": "SD"}}},
          {"transform": [{"filter": "datum.kind=='total'"}], "mark": {"type": "text", "font": "DejaVu Sans", "fontSize": 17, "fontWeight": "bold", "color": "#33334d", "baseline": "middle", "align": "right", "dy": -3},
           "encoding": {"x": {"datum": 6, "type": "quantitative", "axis": null}, "y": {"datum": "hdr", "type": "nominal", "axis": null}, "text": {"value": "Total"}}},
          {"transform": [{"filter": "datum.kind=='total'"}], "mark": {"type": "text", "font": "DejaVu Sans", "fontSize": 17, "fontWeight": "bold", "color": "#33334d", "baseline": "middle", "align": "right", "dy": -3},
           "encoding": {"x": {"datum": 7, "type": "quantitative", "axis": null}, "y": {"datum": "hdr", "type": "nominal", "axis": null}, "text": {"value": "Weight"}}},
          {"transform": [{"filter": "datum.kind=='total'"}], "mark": {"type": "text", "font": "DejaVu Sans", "fontSize": 17, "fontWeight": "bold", "color": "#33334d", "baseline": "middle", "align": "right", "dy": -3},
           "encoding": {"x": {"datum": 8, "type": "quantitative", "axis": null}, "y": {"datum": "hdr", "type": "nominal", "axis": null}, "text": {"value": "IV, Fixed, 95% CI"}}},
          {"transform": [{"filter": "datum.kind=='total'"}], "mark": {"type": "text", "font": "DejaVu Sans", "fontSize": 17, "fontWeight": "bold", "color": "#33334d", "baseline": "middle", "align": "right", "dy": -3},
           "encoding": {"x": {"datum": 9, "type": "quantitative", "axis": null}, "y": {"datum": "hdr", "type": "nominal", "axis": null}, "text": {"value": "Year"}}},
          {"transform": [{"filter": "datum.kind=='total'"}], "mark": {"type": "rule", "color": "#222222", "strokeWidth": 1.6, "yOffset": 8.2},
           "encoding": {"y": {"datum": "hdr", "type": "nominal", "axis": null}}},
          {"transform": [{"filter": "datum.kind=='study'"}], "mark": {"type": "text", "font": "DejaVu Sans", "fontSize": 19, "color": "#222222", "baseline": "middle", "align": "left"},
           "encoding": {"x": {"datum": 0, "type": "quantitative", "axis": null}, "y": {"field": "row", "type": "nominal", "axis": null}, "text": {"field": "study", "type": "nominal"}}},
          {"transform": [{"filter": "datum.kind=='study'"}], "mark": {"type": "text", "font": "DejaVu Sans", "fontSize": 18, "color": "#222222", "baseline": "middle", "align": "right"},
           "encoding": {"x": {"datum": 1, "type": "quantitative", "axis": null}, "y": {"field": "row", "type": "nominal", "axis": null}, "text": {"field": "mean_e", "type": "nominal"}}},
          {"transform": [{"filter": "datum.kind=='study'"}], "mark": {"type": "text", "font": "DejaVu Sans", "fontSize": 18, "color": "#222222", "baseline": "middle", "align": "right"},
           "encoding": {"x": {"datum": 2, "type": "quantitative", "axis": null}, "y": {"field": "row", "type": "nominal", "axis": null}, "text": {"field": "sd_e", "type": "nominal"}}},
          {"transform": [{"filter": "datum.kind=='study'"}], "mark": {"type": "text", "font": "DejaVu Sans", "fontSize": 18, "color": "#222222", "baseline": "middle", "align": "right"},
           "encoding": {"x": {"datum": 3, "type": "quantitative", "axis": null}, "y": {"field": "row", "type": "nominal", "axis": null}, "text": {"field": "n_e", "type": "nominal"}}},
          {"transform": [{"filter": "datum.kind=='study'"}], "mark": {"type": "text", "font": "DejaVu Sans", "fontSize": 18, "color": "#222222", "baseline": "middle", "align": "right"},
           "encoding": {"x": {"datum": 4, "type": "quantitative", "axis": null}, "y": {"field": "row", "type": "nominal", "axis": null}, "text": {"field": "mean_c", "type": "nominal"}}},
          {"transform": [{"filter": "datum.kind=='study'"}], "mark": {"type": "text", "font": "DejaVu Sans", "fontSize": 18, "color": "#222222", "baseline": "middle", "align": "right"},
           "encoding": {"x": {"datum": 5, "type": "quantitative", "axis": null}, "y": {"field": "row", "type": "nominal", "axis": null}, "text": {"field": "sd_c", "type": "nominal"}}},
          {"transform": [{"filter": "datum.kind=='study'"}], "mark": {"type": "text", "font": "DejaVu Sans", "fontSize": 18, "color": "#222222", "baseline": "middle", "align": "right"},
           "encoding": {"x": {"datum": 6, "type": "quantitative", "axis": null}, "y": {"field": "row", "type": "nominal", "axis": null}, "text": {"field": "n_c", "type": "nominal"}}},
          {"transform": [{"filter": "datum.kind=='study'"}], "mark": {"type": "text", "font": "DejaVu Sans", "fontSize": 18, "color": "#222222", "baseline": "middle", "align": "right"},
           "encoding": {"x": {"datum": 7, "type": "quantitative", "axis": null}, "y": {"field": "row", "type": "nominal", "axis": null}, "text": {"field": "w", "type": "quantitative", "format": ".1%"}}},
          {"transform": [{"filter": "datum.kind=='study'"}], "mark": {"type": "text", "font": "DejaVu Sans", "fontSize": 18, "color": "#222222", "baseline": "middle", "align": "right"},
           "encoding": {"x": {"datum": 8, "type": "quantitative", "axis": null}, "y": {"field": "row", "type": "nominal", "axis": null}, "text": {"field": "ci", "type": "nominal"}}},
          {"transform": [{"filter": "datum.kind=='study'"}], "mark": {"type": "text", "font": "DejaVu Sans", "fontSize": 18, "color": "#222222", "baseline": "middle", "align": "right"},
           "encoding": {"x": {"datum": 9, "type": "quantitative", "axis": null}, "y": {"field": "row", "type": "nominal", "axis": null}, "text": {"field": "year", "type": "nominal"}}},
          {"transform": [{"filter": "datum.kind=='total'"}], "mark": {"type": "text", "font": "DejaVu Sans", "fontSize": 17, "fontWeight": "bold", "color": "#33334d", "baseline": "middle", "align": "left", "dy": -4},
           "encoding": {"x": {"datum": 0, "type": "quantitative", "axis": null}, "y": {"datum": "total", "type": "nominal", "axis": null}, "text": {"value": "Total (95% CI)"}}},
          {"transform": [{"filter": "datum.kind=='total'"}], "mark": {"type": "text", "font": "DejaVu Sans", "fontSize": 17, "fontWeight": "bold", "color": "#33334d", "baseline": "middle", "align": "right", "dy": -4},
           "encoding": {"x": {"datum": 3, "type": "quantitative", "axis": null}, "y": {"datum": "total", "type": "nominal", "axis": null}, "text": {"field": "n_e", "type": "nominal"}}},
          {"transform": [{"filter": "datum.kind=='total'"}], "mark": {"type": "text", "font": "DejaVu Sans", "fontSize": 17, "fontWeight": "bold", "color": "#33334d", "baseline": "middle", "align": "right", "dy": -4},
           "encoding": {"x": {"datum": 6, "type": "quantitative", "axis": null}, "y": {"datum": "total", "type": "nominal", "axis": null}, "text": {"field": "n_c", "type": "nominal"}}},
          {"transform": [{"filter": "datum.kind=='total'"}], "mark": {"type": "text", "font": "DejaVu Sans", "fontSize": 17, "fontWeight": "bold", "color": "#33334d", "baseline": "middle", "align": "right", "dy": -4},
           "encoding": {"x": {"datum": 7, "type": "quantitative", "axis": null}, "y": {"datum": "total", "type": "nominal", "axis": null}, "text": {"field": "w", "type": "quantitative", "format": ".1%"}}},
          {"transform": [{"filter": "datum.kind=='total'"}], "mark": {"type": "text", "font": "DejaVu Sans", "fontSize": 17, "fontWeight": "bold", "color": "#33334d", "baseline": "middle", "align": "right", "dy": -4},
           "encoding": {"x": {"datum": 8, "type": "quantitative", "axis": null}, "y": {"datum": "total", "type": "nominal", "axis": null}, "text": {"field": "ci", "type": "nominal"}}},
          {"transform": [{"filter": "datum.kind=='total'"}], "mark": {"type": "text", "font": "DejaVu Sans", "fontSize": 18, "color": "#222222", "baseline": "middle", "align": "left"},
           "encoding": {"x": {"datum": 0, "type": "quantitative", "axis": null}, "y": {"datum": "het", "type": "nominal", "axis": null}, "text": {"field": "het", "type": "nominal"}}},
          {"transform": [{"filter": "datum.kind=='total'"}], "mark": {"type": "text", "font": "DejaVu Sans", "fontSize": 18, "color": "#222222", "baseline": "middle", "align": "left"},
           "encoding": {"x": {"datum": 0, "type": "quantitative", "axis": null}, "y": {"datum": "test", "type": "nominal", "axis": null}, "text": {"field": "test", "type": "nominal"}}}
        ]},
        {"resolve": {"scale": {"size": "independent"}},
         "layer": [
          {"transform": [{"filter": "datum.kind=='total'"}], "mark": {"type": "rule", "color": "#222222", "strokeWidth": 1.5, "yOffset": 8.2, "y2Offset": 19},
           "encoding": {"x": {"datum": 0, "type": "quantitative", "scale": {"domain": [-0.73, 0.73], "range": [1168, 1637], "clamp": true, "zero": false, "nice": false},
                              "axis": {"orient": "bottom", "offset": -39.15, "values": [-0.5, -0.25, 0, 0.25, 0.5], "format": "~g", "labelExpr": "replace(datum.label, '−', '-')", "labelFont": "DejaVu Sans", "labelFontSize": 18, "labelColor": "#222222", "domainColor": "#222222", "domainWidth": 1.6, "tickColor": "#222222", "tickWidth": 1.6, "tickSize": 5, "labelPadding": 1, "title": null, "grid": false, "labelFlush": false, "labelOverlap": false}},
                        "y": {"datum": "hdr", "type": "nominal", "axis": null}, "y2": {"datum": "total"}}},
          {"transform": [{"filter": "datum.kind=='total'"}], "mark": {"type": "text", "font": "DejaVu Sans", "fontSize": 17, "fontWeight": "bold", "color": "#33334d", "baseline": "middle", "align": "center", "dy": -3},
           "encoding": {"x": {"datum": 0, "type": "quantitative"}, "y": {"datum": "grp", "type": "nominal", "axis": null}, "text": {"value": "Std. Mean Difference"}}},
          {"transform": [{"filter": "datum.kind=='total'"}], "mark": {"type": "text", "font": "DejaVu Sans", "fontSize": 17, "fontWeight": "bold", "color": "#33334d", "baseline": "middle", "align": "center", "dy": -3},
           "encoding": {"x": {"datum": 0, "type": "quantitative"}, "y": {"datum": "hdr", "type": "nominal", "axis": null}, "text": {"value": "IV, Fixed, 95% CI"}}},
          {"transform": [{"filter": "datum.kind=='study' && datum.w > 0"}], "mark": {"type": "rule", "color": "#222222", "strokeWidth": 1.5},
           "encoding": {"x": {"field": "lo", "type": "quantitative"}, "x2": {"field": "hi"}, "y": {"field": "row", "type": "nominal", "axis": null}}},
          {"transform": [{"filter": "datum.kind=='study' && datum.w > 0"}], "mark": {"type": "point", "shape": "square", "filled": true, "color": "#00bb00", "opacity": 1},
           "encoding": {"x": {"field": "est", "type": "quantitative"}, "y": {"field": "row", "type": "nominal", "axis": null},
                        "size": {"field": "w", "type": "quantitative", "scale": {"domain": [0, 0.6], "range": [0, 340], "zero": true}, "legend": null}}},
          {"transform": [{"filter": "datum.kind=='study' && datum.w > 0 && datum.hi > 0.73"}], "mark": {"type": "point", "shape": "triangle-right", "filled": true, "color": "#222222", "opacity": 1, "size": 80, "xOffset": -4},
           "encoding": {"x": {"field": "hi", "type": "quantitative"}, "y": {"field": "row", "type": "nominal", "axis": null}}},
          {"transform": [{"filter": "datum.kind=='study' && datum.w > 0 && datum.lo < -0.73"}], "mark": {"type": "point", "shape": "triangle-left", "filled": true, "color": "#222222", "opacity": 1, "size": 80, "xOffset": 4},
           "encoding": {"x": {"field": "lo", "type": "quantitative"}, "y": {"field": "row", "type": "nominal", "axis": null}}},
          {"transform": [{"filter": "datum.kind=='total'"}, {"fold": ["lo", "est", "hi"], "as": ["k", "v"]}], "mark": {"type": "trail", "color": "#000000", "opacity": 1, "yOffset": -4},
           "encoding": {"x": {"field": "v", "type": "quantitative"}, "y": {"datum": "total", "type": "nominal", "axis": null},
                        "size": {"field": "k", "type": "ordinal", "scale": {"type": "ordinal", "domain": ["lo", "est", "hi"], "range": [0, 20, 0]}, "legend": null}}},
          {"transform": [{"filter": "datum.kind=='total'"}], "mark": {"type": "text", "font": "DejaVu Sans", "fontSize": 19, "color": "#444444", "baseline": "middle", "align": "right", "dx": -11, "dy": 31.2},
           "encoding": {"x": {"datum": 0, "type": "quantitative"}, "y": {"datum": "het", "type": "nominal", "axis": null}, "text": {"value": "Exposed"}}},
          {"transform": [{"filter": "datum.kind=='total'"}], "mark": {"type": "text", "font": "DejaVu Sans", "fontSize": 19, "color": "#444444", "baseline": "middle", "align": "left", "dx": 8, "dy": 31.2},
           "encoding": {"x": {"datum": 0, "type": "quantitative"}, "y": {"datum": "het", "type": "nominal", "axis": null}, "text": {"value": "Unexposed"}}}
        ]}
      ]
    },
    {
      "width": 1552,
      "height": 716,
      "layer": [
        {"data": {"name": "funnel_lines"},
         "mark": {"type": "line", "color": "#2a3bd0", "strokeWidth": 1.8, "strokeDash": [8, 5]},
         "encoding": {
           "x": {"field": "smd", "type": "quantitative", "scale": {"domain": [-0.724, 0.728], "range": [86, 1552], "zero": false, "nice": false},
                 "axis": {"values": [-0.5, -0.25, 0, 0.25, 0.5], "format": "~g", "labelExpr": "replace(datum.label, '−', '-')", "labelFont": "DejaVu Sans", "labelFontSize": 24, "labelColor": "#111111", "domainColor": "#111111", "domainWidth": 2, "tickColor": "#111111", "tickWidth": 2, "tickSize": 8, "labelPadding": 2, "grid": false, "labelFlush": false,
                          "title": "SMD", "titleFont": "DejaVu Sans", "titleFontSize": 24, "titleFontWeight": "normal", "titleColor": "#111111", "titleAlign": "right", "titleBaseline": "middle", "titleX": 1547, "titleY": -18}},
           "y": {"field": "se", "type": "quantitative", "scale": {"domain": [0, 0.5], "range": [35, 716], "zero": false, "nice": false},
                 "axis": {"values": [0, 0.1, 0.2, 0.3, 0.4, 0.5], "format": "~g", "offset": -86, "labelFont": "DejaVu Sans", "labelFontSize": 24, "labelColor": "#111111", "domainColor": "#111111", "domainWidth": 2, "tickColor": "#111111", "tickWidth": 2, "tickSize": 12, "labelPadding": 7, "grid": false, "labelFlush": false,
                          "title": "SE(SMD)", "titleFont": "DejaVu Sans", "titleFontSize": 24, "titleFontWeight": "normal", "titleColor": "#111111", "titleAngle": 0, "titleAlign": "left", "titleBaseline": "middle", "titleX": 16, "titleY": 21}}
         }},
        {"data": {"name": "pooled"},
         "mark": {"type": "rule", "color": "#1010d8", "strokeWidth": 2, "strokeDash": [9, 5]},
         "encoding": {"x": {"field": "smd", "type": "quantitative"}, "y": {"datum": 0, "type": "quantitative"}, "y2": {"datum": 0.5}}},
        {"data": {"name": "funnel_points"},
         "mark": {"type": "point", "shape": "M-1,0A1,0.76,0,1,1,1,0A1,0.76,0,1,1,-1,0Z", "filled": false, "stroke": "#222222", "strokeWidth": 2, "size": 625, "opacity": 1},
         "encoding": {"x": {"field": "smd", "type": "quantitative"}, "y": {"field": "se", "type": "quantitative"}}},
        {"data": {"values": [{"label": "B"}]},
         "mark": {"type": "text", "font": "Liberation Sans", "fontSize": 25, "fontWeight": "bold", "color": "#000000", "align": "left", "baseline": "middle", "dx": -86, "dy": -97},
         "encoding": {"x": {"datum": -0.724, "type": "quantitative"}, "y": {"datum": 0, "type": "quantitative"}, "text": {"field": "label"}}}
      ]
    }
  ]
}
